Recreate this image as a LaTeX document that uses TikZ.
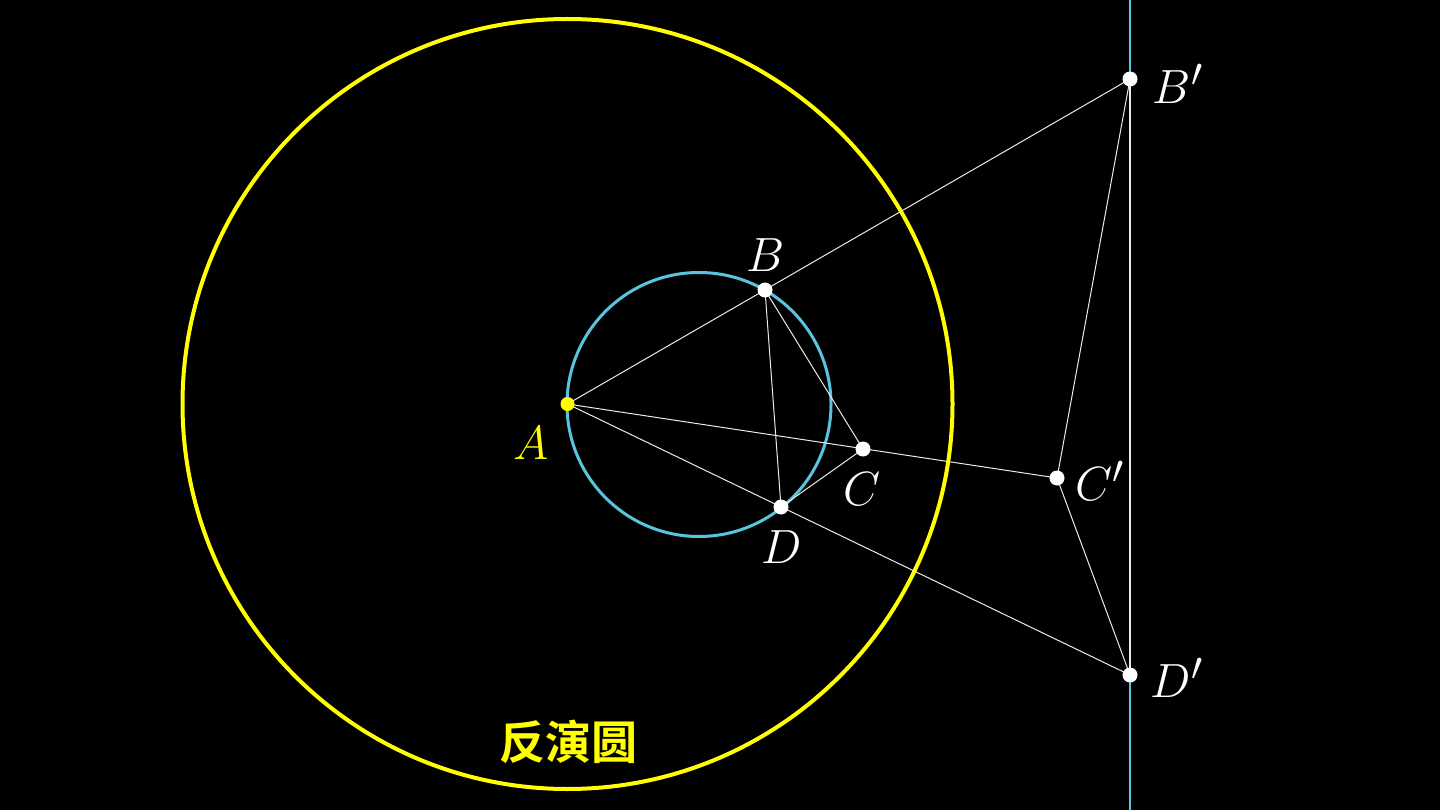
\documentclass[tikz,border=0pt]{standalone}
\usepackage{fontspec}
\newfontfamily\cjk{Noto Sans CJK SC Bold}
\definecolor{mblue}{HTML}{58C4DD}
\definecolor{myellow}{HTML}{FFFF00}
\newcommand{\biglbl}[1]{\scalebox{1.93}{\Huge$#1$}}
\begin{document}
\begin{tikzpicture}[x=1pt,y=-1pt,
  seg/.style={white!92!black,line width=1pt},
  dot/.style={circle,fill=white,inner sep=0pt,minimum size=15pt},
  ydot/.style={circle,fill=myellow,inner sep=0pt,minimum size=14pt},
  lbl/.style={text=white,inner sep=0pt}]
\fill[black] (0,0) rectangle (1440,810);
\useasboundingbox (0,0) rectangle (1440,810);
% circles and line
\node[draw=myellow,line width=4pt,circle,minimum size=770pt,inner sep=0pt] (inv) at (567.5,404) {};
\node[draw=mblue,line width=3pt,circle,minimum size=264pt,inner sep=0pt] (bc) at (699,404.5) {};
\coordinate (top) at (1130,0);
\coordinate (bot) at (1130,810);
\draw[mblue,line width=2pt] (top) -- (bot);
% points
\coordinate (A) at (567.5,404);
\coordinate (B) at (765,290);
\coordinate (C) at (863,449);
\coordinate (D) at (781,507);
\coordinate (Bp) at (1130,79);
\coordinate (Cp) at (1057,478);
\coordinate (Dp) at (1130,675);
% segments
\draw[seg] (A) -- (Bp);
\draw[seg] (A) -- (Cp);
\draw[seg] (A) -- (Dp);
\draw[seg] (B) -- (C);
\draw[seg] (B) -- (D);
\draw[seg] (C) -- (D);
\draw[seg] (Bp) -- (Cp);
\draw[seg] (Cp) -- (Dp);
\draw[seg,line width=1.5pt] (Bp) -- (Dp);
% dots
\node[ydot] (dA) at (A) {};
\node[dot] (dB) at (B) {};
\node[dot] (dC) at (C) {};
\node[dot] (dD) at (D) {};
\node[dot] (dBp) at (Bp) {};
\node[dot] (dCp) at (Cp) {};
\node[dot] (dDp) at (Dp) {};
% labels
\node[lbl,text=myellow] (lA) at (531,443) {\biglbl{A}};
\node[lbl] (lB) at (766,255) {\biglbl{B}};
\node[lbl] (lC) at (862,489) {\biglbl{C}};
\node[lbl] (lD) at (782,547) {\biglbl{D}};
\node[lbl] (lBp) at (1178,84) {\biglbl{B'}};
\node[lbl] (lCp) at (1100,481) {\biglbl{C'}};
\node[lbl] (lDp) at (1177,678) {\biglbl{D'}};
\node[text=myellow,inner sep=0pt,font=\cjk\fontsize{46}{56}\selectfont] (title) at (568,742) {反演圆};
\end{tikzpicture}
\end{document}
